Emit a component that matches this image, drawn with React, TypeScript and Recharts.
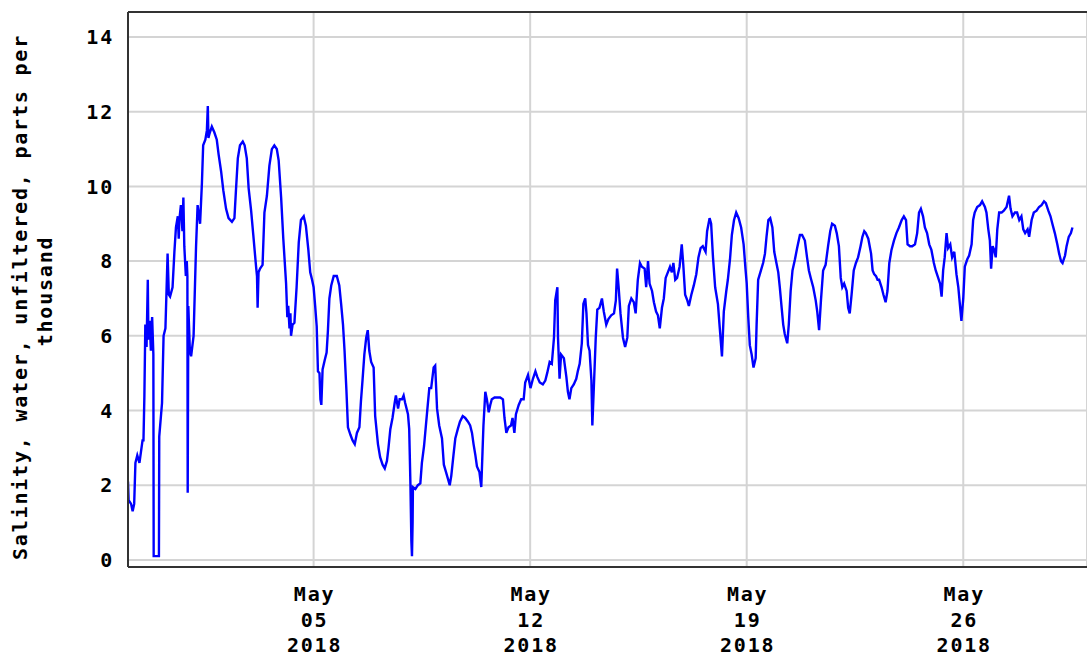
import { CartesianGrid, Line, LineChart, ReferenceLine, XAxis, YAxis } from "recharts";

// salinity (ppt); first value = days since 2018-04-29 00:00
const apr29ToMay05: [number, number][] = [
  [0.0, 2.1], [0.02, 1.6], [0.1, 1.5], [0.15, 1.3], [0.2, 1.5], [0.24, 2.6], [0.3, 2.8], [0.37, 2.6],
  [0.42, 2.9], [0.47, 3.2], [0.5, 3.2], [0.53, 4.4], [0.56, 6.3], [0.6, 5.7], [0.64, 7.5], [0.66, 5.9],
  [0.7, 6.4], [0.74, 5.6], [0.78, 6.5], [0.82, 5.5], [0.83, 0.1], [1.0, 0.1], [1.01, 3.3], [1.1, 4.2],
  [1.15, 6.0], [1.21, 6.2], [1.28, 8.2], [1.32, 7.1], [1.36, 7.05], [1.44, 7.3], [1.5, 8.25], [1.55, 8.9],
  [1.61, 9.2], [1.64, 8.6], [1.66, 9.1], [1.71, 9.5], [1.76, 8.8], [1.79, 9.7], [1.82, 8.4], [1.87, 7.6],
  [1.9, 8.0], [1.92, 7.6], [1.93, 1.8], [1.95, 6.8], [2.0, 5.6], [2.04, 5.45], [2.12, 6.0], [2.2, 8.4],
  [2.25, 9.5], [2.33, 9.0], [2.39, 10.1], [2.43, 11.1], [2.5, 11.25], [2.55, 11.5], [2.58, 12.15], [2.6, 11.3],
  [2.63, 11.4], [2.71, 11.6], [2.79, 11.45], [2.87, 11.25], [2.93, 10.85], [3.01, 10.4], [3.08, 9.9], [3.17, 9.4],
  [3.25, 9.15], [3.36, 9.05], [3.44, 9.15], [3.49, 9.9], [3.55, 10.75], [3.62, 11.1], [3.71, 11.2], [3.77, 11.1],
  [3.84, 10.75], [3.9, 9.95], [3.98, 9.35], [4.05, 8.7], [4.14, 7.85], [4.17, 7.6], [4.19, 6.75], [4.22, 7.7],
  [4.27, 7.8], [4.35, 7.9], [4.41, 9.3], [4.49, 9.75], [4.57, 10.55], [4.65, 11.0], [4.73, 11.1], [4.81, 11.0],
  [4.87, 10.7], [4.95, 9.7], [5.02, 8.6], [5.11, 7.4], [5.15, 6.5], [5.18, 6.8], [5.22, 6.2], [5.25, 6.6],
  [5.27, 6.0], [5.32, 6.3], [5.38, 6.35], [5.45, 7.3], [5.52, 8.5], [5.59, 9.1], [5.68, 9.2], [5.75, 8.95],
  [5.83, 8.3], [5.89, 7.7], [5.95, 7.5],
];

const may05ToMay12: [number, number][] = [
  [6.0, 7.3], [6.05, 6.8], [6.1, 6.25], [6.14, 5.05], [6.19, 5.0], [6.22, 4.3], [6.25, 4.15], [6.29, 5.1],
  [6.36, 5.35], [6.42, 5.55], [6.46, 6.1], [6.51, 7.0], [6.57, 7.35], [6.65, 7.6], [6.75, 7.6], [6.83, 7.35],
  [6.89, 6.85], [6.95, 6.3], [7.0, 5.6], [7.06, 4.55], [7.11, 3.55], [7.19, 3.35], [7.26, 3.2], [7.33, 3.1],
  [7.4, 3.4], [7.48, 3.55], [7.53, 4.25], [7.58, 4.8], [7.64, 5.5], [7.7, 5.95], [7.75, 6.15], [7.8, 5.6],
  [7.86, 5.3], [7.94, 5.15], [7.99, 3.85], [8.08, 3.1], [8.15, 2.75], [8.23, 2.55], [8.3, 2.45], [8.37, 2.65],
  [8.42, 3.0], [8.48, 3.5], [8.55, 3.8], [8.62, 4.2], [8.66, 4.4], [8.73, 4.05], [8.78, 4.3], [8.86, 4.3],
  [8.91, 4.4], [8.96, 4.2], [9.05, 3.9], [9.09, 3.5], [9.13, 2.0], [9.16, 0.5], [9.18, 0.1], [9.2, 1.0],
  [9.21, 1.95], [9.29, 1.9], [9.37, 2.0], [9.45, 2.05], [9.5, 2.6], [9.57, 3.05], [9.63, 3.6], [9.69, 4.15],
  [9.74, 4.6], [9.8, 4.6], [9.88, 5.15], [9.93, 5.2], [9.99, 4.05], [10.06, 3.6], [10.15, 3.25], [10.21, 2.55],
  [10.28, 2.35], [10.35, 2.15], [10.4, 2.0], [10.45, 2.25], [10.52, 2.8], [10.58, 3.25], [10.66, 3.5], [10.73, 3.7],
  [10.82, 3.85], [10.9, 3.8], [10.99, 3.7], [11.06, 3.6], [11.12, 3.4], [11.17, 3.1], [11.23, 2.8], [11.28, 2.5],
  [11.36, 2.35], [11.42, 1.95], [11.46, 2.9], [11.49, 3.6], [11.55, 4.5], [11.6, 4.3], [11.66, 3.95], [11.71, 4.15],
  [11.76, 4.3], [11.85, 4.35], [11.93, 4.35], [12.03, 4.35], [12.12, 4.3], [12.17, 3.8], [12.23, 3.4], [12.3, 3.55],
  [12.38, 3.6], [12.43, 3.8], [12.49, 3.4], [12.54, 3.9], [12.63, 4.15], [12.71, 4.3], [12.79, 4.3], [12.84, 4.75],
  [12.93, 4.95],
];

const may12ToMay19: [number, number][] = [
  [13.01, 4.6], [13.09, 4.85], [13.17, 5.05], [13.23, 4.9], [13.31, 4.75], [13.41, 4.7], [13.49, 4.8], [13.55, 5.0],
  [13.63, 5.3], [13.7, 5.25], [13.77, 5.95], [13.81, 6.95], [13.88, 7.3], [13.9, 5.95], [13.95, 4.85], [14.0, 5.5],
  [14.09, 5.4], [14.17, 4.9], [14.22, 4.5], [14.27, 4.3], [14.33, 4.6], [14.41, 4.7], [14.49, 4.85], [14.54, 5.05],
  [14.6, 5.25], [14.67, 5.8], [14.72, 6.85], [14.78, 7.0], [14.82, 6.6], [14.87, 5.75], [14.92, 5.6], [14.98, 4.8],
  [15.01, 3.6], [15.06, 4.65], [15.12, 5.95], [15.17, 6.7], [15.24, 6.75], [15.32, 7.0], [15.38, 6.65], [15.46, 6.3],
  [15.53, 6.45], [15.62, 6.55], [15.71, 6.6], [15.77, 6.95], [15.81, 7.8], [15.86, 7.3], [15.92, 6.6], [16.0, 5.95],
  [16.07, 5.7], [16.14, 5.95], [16.19, 6.8], [16.27, 7.0], [16.35, 6.9], [16.41, 6.6], [16.48, 7.5], [16.55, 7.95],
  [16.61, 7.85], [16.7, 7.8], [16.75, 7.3], [16.81, 8.0], [16.86, 7.4], [16.94, 7.2], [17.0, 6.9], [17.07, 6.65],
  [17.13, 6.55], [17.19, 6.2], [17.26, 6.75], [17.32, 7.0], [17.38, 7.55], [17.45, 7.7], [17.52, 7.85], [17.58, 7.7],
  [17.63, 7.95], [17.69, 7.5], [17.75, 7.55], [17.83, 7.85], [17.9, 8.45], [17.95, 7.9], [18.01, 7.1], [18.08, 6.95],
  [18.13, 6.8], [18.21, 7.1], [18.29, 7.35], [18.37, 7.65], [18.44, 8.1], [18.51, 8.35], [18.58, 8.4], [18.67, 8.25],
  [18.72, 8.8], [18.8, 9.15], [18.85, 9.0], [18.91, 8.1], [18.98, 7.3], [19.07, 6.85], [19.13, 6.2], [19.2, 5.45],
  [19.26, 6.65], [19.34, 7.2], [19.39, 7.5], [19.46, 8.05], [19.52, 8.7], [19.59, 9.1], [19.66, 9.3], [19.74, 9.15],
  [19.82, 8.9], [19.9, 8.45], [19.96, 7.8], [20.0, 7.4],
];

const may19ToMay26: [number, number][] = [
  [20.05, 6.5], [20.1, 5.75], [20.16, 5.5], [20.22, 5.15], [20.29, 5.4], [20.32, 6.3], [20.37, 7.5], [20.46, 7.75],
  [20.53, 7.95], [20.59, 8.2], [20.64, 8.65], [20.7, 9.1], [20.76, 9.15], [20.83, 8.9], [20.89, 8.25], [20.96, 7.95],
  [21.02, 7.7], [21.07, 7.3], [21.13, 6.75], [21.18, 6.3], [21.23, 6.05], [21.31, 5.8], [21.36, 6.3], [21.42, 7.2],
  [21.48, 7.75], [21.56, 8.05], [21.63, 8.35], [21.72, 8.7], [21.79, 8.7], [21.88, 8.55], [21.95, 8.1], [22.01, 7.75],
  [22.07, 7.55], [22.15, 7.3], [22.23, 6.95], [22.28, 6.65], [22.34, 6.15], [22.4, 6.95], [22.47, 7.75], [22.55, 7.9],
  [22.63, 8.4], [22.7, 8.8], [22.76, 9.0], [22.85, 8.95], [22.91, 8.75], [22.98, 8.4], [23.04, 7.55], [23.09, 7.3],
  [23.15, 7.4], [23.23, 7.2], [23.28, 6.75], [23.33, 6.6], [23.39, 7.1], [23.46, 7.75], [23.53, 7.95], [23.6, 8.1],
  [23.68, 8.4], [23.74, 8.65], [23.8, 8.8], [23.85, 8.75], [23.93, 8.6], [24.02, 8.2], [24.07, 7.75], [24.12, 7.65],
  [24.18, 7.6], [24.23, 7.5], [24.28, 7.5], [24.36, 7.3], [24.42, 7.1], [24.49, 6.9], [24.55, 7.2], [24.61, 7.95],
  [24.68, 8.3], [24.76, 8.55], [24.84, 8.75], [24.92, 8.9], [25.01, 9.1], [25.08, 9.2], [25.15, 9.1], [25.2, 8.45],
  [25.28, 8.4], [25.35, 8.4], [25.44, 8.45], [25.51, 8.75], [25.57, 9.3], [25.63, 9.4], [25.7, 9.2], [25.76, 8.9],
  [25.83, 8.75], [25.9, 8.45], [25.97, 8.3], [26.05, 7.95], [26.11, 7.75], [26.19, 7.55], [26.25, 7.4], [26.3, 7.05],
  [26.35, 7.75], [26.4, 8.1], [26.46, 8.75], [26.51, 8.35], [26.58, 8.45], [26.64, 8.1], [26.71, 8.25], [26.78, 7.65],
  [26.84, 7.3], [26.89, 6.85], [26.94, 6.4],
];

const may26ToMay30: [number, number][] = [
  [27.0, 7.0], [27.05, 7.85], [27.13, 8.05], [27.19, 8.15], [27.27, 8.45], [27.32, 9.1], [27.37, 9.3], [27.45, 9.45],
  [27.54, 9.5], [27.61, 9.6], [27.7, 9.45], [27.75, 9.3], [27.81, 8.85], [27.86, 8.55], [27.9, 7.8], [27.95, 8.4],
  [28.0, 8.3], [28.05, 8.1], [28.1, 8.85], [28.16, 9.3], [28.24, 9.3], [28.31, 9.35], [28.4, 9.45], [28.48, 9.75],
  [28.53, 9.4], [28.59, 9.2], [28.67, 9.3], [28.74, 9.3], [28.81, 9.1], [28.88, 9.2], [28.94, 8.85], [29.0, 8.75],
  [29.08, 8.85], [29.13, 8.65], [29.21, 9.1], [29.28, 9.3], [29.37, 9.35], [29.45, 9.45], [29.53, 9.5], [29.61, 9.6],
  [29.67, 9.55], [29.75, 9.35], [29.82, 9.2], [29.88, 9.0], [29.96, 8.75], [30.04, 8.45], [30.1, 8.2], [30.16, 8.0],
  [30.21, 7.95], [30.29, 8.15], [30.34, 8.4], [30.41, 8.65], [30.48, 8.75], [30.53, 8.9],
];

const yTicks = [0, 2, 4, 6, 8, 10, 12, 14];
const xTickDays = [6, 13, 20, 27];
const xTickLabels = ["May 05 2018", "May 12 2018", "May 19 2018", "May 26 2018"];
const yTitleLines = ["Salinity, water, unfiltered, parts per", "thousand"];

const data = [
  ...apr29ToMay05,
  ...may05ToMay12,
  ...may12ToMay19,
  ...may19ToMay26,
  ...may26ToMay30,
].map(([day, salinity]) => ({ day, salinity }));

const FONT = '"DejaVu Sans Mono", "Liberation Mono", monospace';
const Y_MIN = -0.19;
const Y_MAX = 14.67;
const FRAME = "#333333";

const textStyle = {
  fontFamily: FONT,
  fontWeight: 700,
  fontSize: 20,
  letterSpacing: 1.8,
  fill: "#000",
};

function XTick(props: any) {
  const { x, y, payload } = props;
  const i = xTickDays.indexOf(payload.value);
  const lines = (xTickLabels[i] ?? "").split(" ");
  return (
    <text x={x} y={y} textAnchor="middle" {...textStyle}>
      {lines.map((line, k) => (
        <tspan key={k} x={x + 1} dy={k === 0 ? 34 : 25.5}>
          {line}
        </tspan>
      ))}
    </text>
  );
}

function YTick(props: any) {
  const { x, y, payload } = props;
  return (
    <text x={x} y={y} dy="0.36em" textAnchor="end" {...textStyle}>
      {payload.value}
    </text>
  );
}

function YTitle() {
  return (
    <g>
      <text x={27} y={297} textAnchor="middle" transform="rotate(-90, 27, 297)" {...textStyle}>
        {yTitleLines[0]}
      </text>
      <text x={52} y={291} textAnchor="middle" transform="rotate(-90, 52, 291)" {...textStyle}>
        {yTitleLines[1]}
      </text>
    </g>
  );
}

export default function App() {
  return (
    <div style={{ position: "absolute", left: 0, top: 0, width: 1087, height: 656, background: "#fff" }}>
      <LineChart width={1087} height={656} data={data} margin={{ top: 12, right: 0, bottom: 0, left: 0 }}>
        <CartesianGrid stroke="#d4d4d4" strokeWidth={2} />
        <XAxis
          dataKey="day"
          type="number"
          domain={[0, 31]}
          ticks={xTickDays}
          allowDataOverflow
          height={89}
          tickSize={0}
          tickMargin={0}
          axisLine={{ stroke: FRAME, strokeWidth: 2 }}
          tickLine={false}
          tick={<XTick />}
          interval={0}
        />
        <YAxis
          type="number"
          domain={[Y_MIN, Y_MAX]}
          ticks={yTicks}
          allowDataOverflow
          width={128}
          tickSize={0}
          tickMargin={14}
          axisLine={{ stroke: FRAME, strokeWidth: 2 }}
          tickLine={false}
          tick={<YTick />}
          interval={0}
          label={<YTitle />}
        />
        <ReferenceLine y={Y_MAX} stroke={FRAME} strokeWidth={2} />
        <Line
          type="linear"
          dataKey="salinity"
          stroke="#0000ff"
          strokeWidth={2.4}
          dot={false}
          activeDot={false}
          isAnimationActive={false}
        />
      </LineChart>
    </div>
  );
}
